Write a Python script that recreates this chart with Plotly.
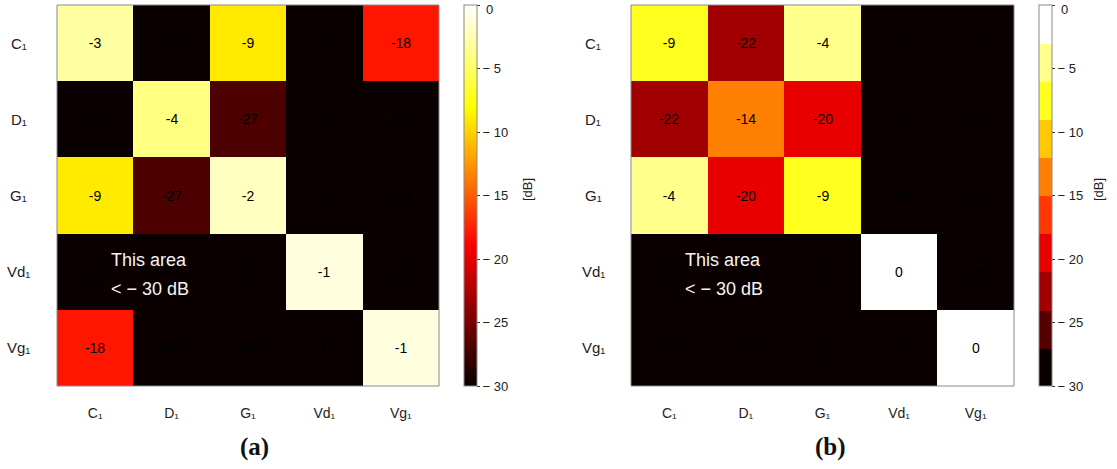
import plotly.graph_objects as go

labels = ["C₁", "D₁", "G₁", "Vd₁", "Vg₁"]

# (a) coupling matrix in dB
z_a = [
    [-3, -36, -9, -49, -18],
    [-36, -4, -27, -37, -44],
    [-9, -27, -2, -45, -34],
    [-49, -37, -45, -1, -47],
    [-18, -44, -34, -47, -1],
]
# (b) coupling matrix in dB
z_b = [
    [-9, -22, -4, -66, -43],
    [-22, -14, -20, -59, -62],
    [-4, -20, -9, -66, -53],
    [-66, -59, -66, 0, -96],
    [-43, -62, -53, -96, 0],
]

cb_tickvals = [0, -5, -10, -15, -20, -25, -30]
cb_ticktext = ["", "− 5", "− 10", "− 15", "− 20", "− 25", "− 30"]
cb_top_label = "0"

W, H = 1117, 469
FONT = "Liberation Sans, Arial, sans-serif"

def px_x(v):
    return v / W

def px_y(v):
    return 1 - v / H

# continuous "hot" colorscale
hot = [
    [0.0, "rgb(10,0,0)"],
    [0.37, "rgb(255,0,0)"],
    [0.73, "rgb(255,255,0)"],
    [1.0, "rgb(255,255,255)"],
]

# banded colorscale (10 bands of 3 dB)
band_cols = [
    "rgb(10,0,0)", "rgb(85,0,0)", "rgb(160,0,0)", "rgb(232,0,0)",
    "rgb(255,55,0)", "rgb(255,128,0)", "rgb(255,200,0)", "rgb(255,255,30)",
    "rgb(255,255,140)", "rgb(255,255,255)",
]
eps = 0.002
banded = []
for i, c in enumerate(band_cols):
    lo = 0.0 if i == 0 else i / 10 - eps
    hi = 1.0 if i == 9 else (i + 1) / 10 - eps
    banded.append([lo, c])
    banded.append([hi, c])

top, bottom = 5, 386
panels = [
    dict(z=z_a, cs=hot, x0=57, x1=439, cbx=464, dbx=527, lab="(a)", labx=254),
    dict(z=z_b, cs=banded, x0=631, x1=1014, cbx=1039, dbx=1098, lab="(b)", labx=830),
]

fig = go.Figure()
annotations = []
shapes = []
for i, p in enumerate(panels):
    xa = "x" if i == 0 else "x2"
    ya = "y" if i == 0 else "y2"
    text = [[str(v) for v in row] for row in p["z"]]
    fig.add_trace(go.Heatmap(
        z=p["z"], x=labels, y=labels, text=text, texttemplate="%{text}",
        textfont=dict(family=FONT, size=14, color="black"),
        colorscale=p["cs"], zmin=-30, zmax=0,
        xaxis=xa, yaxis=ya, hoverinfo="skip",
        colorbar=dict(
            x=px_x(p["cbx"]), xanchor="left", xpad=0, ypad=0,
            y=px_y(bottom), yanchor="bottom", len=(bottom - top) / H, lenmode="fraction",
            thickness=13, thicknessmode="pixels",
            outlinewidth=1, outlinecolor="#8a8a8a",
            tickmode="array", tickvals=cb_tickvals, ticktext=cb_ticktext,
            ticks="outside", ticklen=3, tickcolor="#333", tickwidth=1,
            tickfont=dict(family=FONT, size=13, color="#222"),
        ),
    ))
    # top "0" label of the colorbar (kept inside the page)
    annotations.append(dict(
        x=px_x(p["cbx"] + 20), xref="paper", y=1, yref="paper",
        text=cb_top_label, showarrow=False, xanchor="left", yanchor="top",
        font=dict(family=FONT, size=13, color="#222"),
    ))
    axs = "" if i == 0 else "2"
    fig.layout["xaxis" + axs] = dict(
        domain=[px_x(p["x0"]), px_x(p["x1"])], anchor=ya,
        showgrid=False, zeroline=False, ticks="",
        tickfont=dict(family=FONT, size=14, color="#222"),
        ticklabelstandoff=17, showline=False,
    )
    fig.layout["yaxis" + axs] = dict(
        domain=[px_y(bottom), px_y(top)], anchor=xa, autorange="reversed",
        showgrid=False, zeroline=False, ticks="", showticklabels=False,
    )
    # y category labels, centered in left margin
    for lab in labels:
        annotations.append(dict(
            x=px_x(p["x0"] - 38), xref="paper", y=lab, yref=ya,
            text=lab, showarrow=False, xanchor="center", yanchor="middle",
            font=dict(family=FONT, size=15, color="#222"),
        ))
    # frame around the heatmap
    shapes.append(dict(type="rect", xref=xa + " domain", yref=ya + " domain",
                       x0=0, x1=1, y0=0, y1=1, line=dict(color="#8a8a8a", width=1)))
    # "[dB]" colorbar title
    annotations.append(dict(
        x=px_x(p["dbx"]), xref="paper", y=px_y(190), yref="paper",
        text="[dB]", textangle=-90, showarrow=False,
        xanchor="center", yanchor="middle",
        font=dict(family=FONT, size=13, color="#222"),
    ))
    # area note
    annotations.append(dict(
        x=px_x(p["x0"] + 52), xref="paper", y=px_y(260), yref="paper",
        text="This area", showarrow=False, xanchor="left", yanchor="middle",
        font=dict(family=FONT, size=18, color="#f4f4f4"),
    ))
    annotations.append(dict(
        x=px_x(p["x0"] + 52), xref="paper", y=px_y(289), yref="paper",
        text="< − 30 dB", showarrow=False, xanchor="left", yanchor="middle",
        font=dict(family=FONT, size=18, color="#f4f4f4"),
    ))
    # panel label
    annotations.append(dict(
        x=px_x(p["labx"]), xref="paper", y=px_y(447), yref="paper",
        text="<b>" + p["lab"] + "</b>", showarrow=False,
        xanchor="center", yanchor="middle",
        font=dict(family="Liberation Serif, Times New Roman, serif", size=25, color="#111"),
    ))

fig.update_layout(
    width=W, height=H,
    margin=dict(l=0, r=0, t=0, b=0),
    paper_bgcolor="white", plot_bgcolor="white",
    showlegend=False,
    annotations=annotations, shapes=shapes,
)

fig.write_html("out.html")
